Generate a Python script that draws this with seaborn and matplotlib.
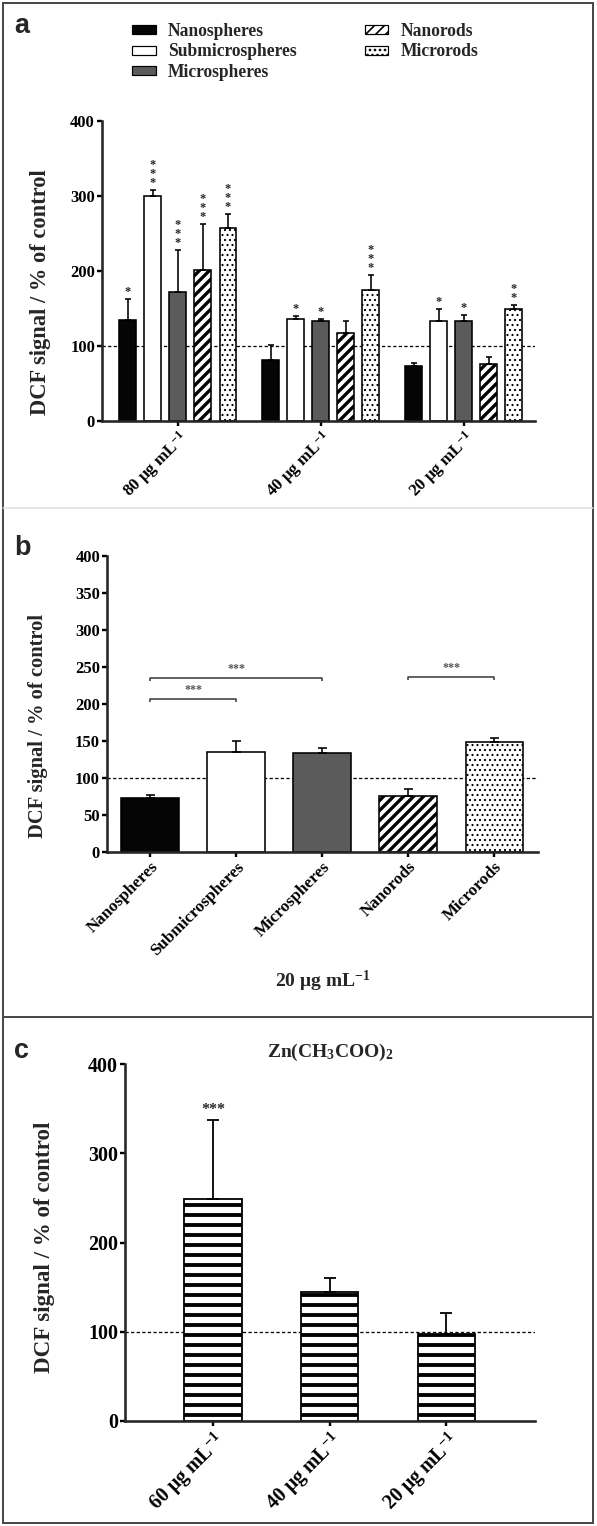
import numpy as np
import pandas as pd
import matplotlib
matplotlib.use("Agg")
import matplotlib.pyplot as plt
from matplotlib.patches import Patch, Rectangle
from matplotlib.lines import Line2D
import seaborn as sns

# ---------------- data ----------------
particles = ["Nanospheres", "Submicrospheres", "Microspheres", "Nanorods", "Microrods"]

# panel a : three doses
doses_a = ["80 μg mL$^{-1}$", "40 μg mL$^{-1}$", "20 μg mL$^{-1}$"]
nanospheres_a = [135, 82, 73]
submicrospheres_a = [300, 136, 134]
microspheres_a = [172, 134, 134]
nanorods_a = [201, 118, 76]
microrods_a = [257, 175, 149]
nanospheres_a_err = [28, 19, 4.5]
submicrospheres_a_err = [8, 4, 15.5]
microspheres_a_err = [56, 2, 7]
nanorods_a_err = [62, 15, 9]
microrods_a_err = [19, 20, 5.5]
nanospheres_a_sig = ["*", "", ""]
submicrospheres_a_sig = ["***", "*", "*"]
microspheres_a_sig = ["***", "*", "*"]
nanorods_a_sig = ["***", "", ""]
microrods_a_sig = ["***", "***", "**"]

# panel b : 20 ug/mL comparison
values_b = [73, 135, 134, 76, 149]
err_b = [4.5, 15.5, 7, 9, 5.5]
bracket_left_b = [0, 0, 3]
bracket_right_b = [1, 2, 4]
bracket_level_b = [207, 235, 237]
bracket_text_b = ["***", "***", "***"]
xlabel_b = "20 μg mL$^{-1}$"

# panel c : zinc acetate
title_c = "Zn(CH$_3$COO)$_2$"
doses_c = ["60 μg mL$^{-1}$", "40 μg mL$^{-1}$", "20 μg mL$^{-1}$"]
values_c = [249, 145, 98]
err_c = [88, 15, 23]
sig_c = ["***", "", ""]

control_level = 100
ylabel = "DCF signal / % of control"

# ---------------- style ----------------
W, H, DPI = 597, 1526, 120
def pt(px):
    return px * 72.0 / DPI

sns.set_style("ticks")
plt.rcParams["font.family"] = ["Liberation Serif", "DejaVu Serif"]
plt.rcParams["font.weight"] = "bold"
plt.rcParams["mathtext.fontset"] = "custom"
plt.rcParams["mathtext.rm"] = "Liberation Serif:bold"
plt.rcParams["mathtext.bf"] = "Liberation Serif:bold"
plt.rcParams["mathtext.it"] = "Liberation Serif:bold"
plt.rcParams["mathtext.sf"] = "Liberation Serif:bold"
plt.rcParams["mathtext.default"] = "rm"
plt.rcParams["hatch.color"] = "black"
plt.rcParams["axes.linewidth"] = pt(2.6)

face = {"Nanospheres": "#050505", "Submicrospheres": "#ffffff",
        "Microspheres": "#5b5b5b", "Nanorods": "#ffffff", "Microrods": "#ffffff"}
hatch = {"Nanospheres": "", "Submicrospheres": "", "Microspheres": "",
         "Nanorods": "////", "Microrods": "...."}
hatch_lw = {"Nanospheres": 1.0, "Submicrospheres": 1.0, "Microspheres": 1.0,
            "Nanorods": 2.0, "Microrods": 0.7}

def style_patch(p, name):
    p.set_hatch(hatch[name])
    try:
        p.set_hatch_linewidth(hatch_lw[name])
    except Exception:
        pass

fig = plt.figure(figsize=(W / DPI, H / DPI), dpi=DPI)
fig.patch.set_facecolor("white")

def rect(l, r, t, b):
    return [l / W, 1 - b / H, (r - l) / W, (b - t) / H]

def style_axis(ax, tick_px, yticks):
    sns.despine(ax=ax)
    ax.set_ylim(0, 400)
    ax.set_yticks(yticks)
    ax.tick_params(axis="both", direction="out", length=pt(5), width=pt(2.4),
                   labelsize=pt(tick_px), pad=pt(2), colors="black")
    for lbl in ax.get_yticklabels():
        lbl.set_fontweight("bold")
    ax.axhline(control_level, color="black", lw=pt(1.3), ls=(0, (2.5, 1.8)), zorder=1)
    ax.set_facecolor("white")

def rotate_xticks(ax, px):
    for lbl in ax.get_xticklabels():
        lbl.set_rotation(45)
        lbl.set_ha("right")
        lbl.set_va("top")
        lbl.set_rotation_mode("anchor")
        lbl.set_fontsize(pt(px))
        lbl.set_fontweight("bold")

# ---------------- panel a ----------------
ax_a = fig.add_axes(rect(102, 535, 121, 421))
means_a = dict(zip(particles, [nanospheres_a, submicrospheres_a, microspheres_a, nanorods_a, microrods_a]))
errs_a = dict(zip(particles, [nanospheres_a_err, submicrospheres_a_err, microspheres_a_err, nanorods_a_err, microrods_a_err]))
sigs_a = dict(zip(particles, [nanospheres_a_sig, submicrospheres_a_sig, microspheres_a_sig, nanorods_a_sig, microrods_a_sig]))
df_a = pd.DataFrame([(d, p, means_a[p][i]) for p in particles for i, d in enumerate(doses_a)],
                    columns=["dose", "particle", "value"])
sns.barplot(data=df_a, x="dose", y="value", hue="particle", order=doses_a, hue_order=particles,
            palette=face, saturation=1, width=0.875, gap=0.34, edgecolor="black",
            linewidth=pt(1.6), errorbar=None, legend=False, ax=ax_a, zorder=2)
bars_a = sorted(ax_a.patches, key=lambda p: p.get_x())
for k, p in enumerate(bars_a):
    g, h = divmod(k, len(particles))
    name = particles[h]
    style_patch(p, name)
    xc = p.get_x() + p.get_width() / 2
    top = p.get_height()
    e = errs_a[name][g]
    ax_a.errorbar([xc], [top], yerr=[[0], [e]], fmt="none", ecolor="black",
                  elinewidth=pt(1.6), capsize=pt(3.4), capthick=pt(1.6), zorder=3)
    s = sigs_a[name][g]
    if s:
        ax_a.text(xc, top + e + 1, "\n".join(s), ha="center", va="bottom",
                  fontsize=pt(12.5), linespacing=0.66, zorder=4)
ax_a.set_xlim(-0.53, 2.5)
style_axis(ax_a, 16.5, [0, 100, 200, 300, 400])
ax_a.set_xlabel("")
ax_a.set_ylabel(ylabel, fontsize=pt(22.5), fontweight="bold")
ax_a.yaxis.set_label_coords(-0.118, 0.43)
rotate_xticks(ax_a, 17)

# legend
handles = []
for name in particles:
    hp = Patch(facecolor=face[name], edgecolor="black", hatch=hatch[name], linewidth=pt(1.2))
    style_patch(hp, name)
    handles.append(hp)
fig.legend(handles, particles, loc="upper left", bbox_to_anchor=(132 / W, 1 - 23 / H),
           ncol=2, frameon=False, prop={"size": pt(17.5), "weight": "bold"},
           handlelength=1.35, handleheight=0.42, handletextpad=0.7,
           columnspacing=3.9, labelspacing=0.2, borderpad=0, borderaxespad=0)

# ---------------- panel b ----------------
ax_b = fig.add_axes(rect(107, 538, 556, 852))
sns.barplot(x=particles, y=values_b, hue=particles, order=particles, hue_order=particles,
            palette=face, saturation=1, width=0.665, edgecolor="black", linewidth=pt(1.6),
            errorbar=None, legend=False, ax=ax_b, zorder=2)
bars_b = sorted(ax_b.patches, key=lambda p: p.get_x())
centers_b = []
for i, p in enumerate(bars_b):
    style_patch(p, particles[i])
    xc = p.get_x() + p.get_width() / 2
    centers_b.append(xc)
    ax_b.errorbar([xc], [p.get_height()], yerr=[[0], [err_b[i]]], fmt="none", ecolor="black",
                  elinewidth=pt(1.6), capsize=pt(4.5), capthick=pt(1.6), zorder=3)
for l, r, lev, txt in zip(bracket_left_b, bracket_right_b, bracket_level_b, bracket_text_b):
    x1, x2 = centers_b[l], centers_b[r]
    ax_b.plot([x1, x1, x2, x2], [lev - 4.5, lev, lev, lev - 4.5], color="#333333",
              lw=pt(1.5), solid_capstyle="butt", zorder=3)
    ax_b.text((x1 + x2) / 2, lev + 4, txt, ha="center", va="bottom", fontsize=pt(12),
              color="#555555", zorder=4)
ax_b.set_xlim(-0.5, 4.51)
style_axis(ax_b, 16.5, list(range(0, 401, 50)))
ax_b.set_ylabel(ylabel, fontsize=pt(20.5), fontweight="bold")
ax_b.yaxis.set_label_coords(-0.137, 0.426)
ax_b.set_xlabel(xlabel_b, fontsize=pt(19.5), fontweight="bold")
ax_b.xaxis.set_label_coords(0.5, -0.395)
rotate_xticks(ax_b, 17)

# ---------------- panel c ----------------
ax_c = fig.add_axes(rect(125, 535, 1064, 1421))
sns.barplot(x=doses_c, y=values_c, order=doses_c, color="white", saturation=1, width=0.49,
            edgecolor="black", linewidth=pt(1.8), errorbar=None, ax=ax_c, zorder=2)
bars_c = sorted(ax_c.patches, key=lambda p: p.get_x())
for i, p in enumerate(bars_c):
    p.set_hatch("--")
    try:
        p.set_hatch_linewidth(2.3)
    except Exception:
        pass
    xc = p.get_x() + p.get_width() / 2
    top = p.get_height()
    ax_c.errorbar([xc], [top], yerr=[[0], [err_c[i]]], fmt="none", ecolor="black",
                  elinewidth=pt(1.8), capsize=pt(6), capthick=pt(1.8), zorder=3)
    if sig_c[i]:
        ax_c.text(xc, top + err_c[i] + 2, sig_c[i], ha="center", va="bottom",
                  fontsize=pt(16), zorder=4)
ax_c.set_xlim(-0.754, 2.76)
style_axis(ax_c, 20, [0, 100, 200, 300, 400])
ax_c.set_xlabel("")
ax_c.set_ylabel(ylabel, fontsize=pt(23), fontweight="bold")
ax_c.yaxis.set_label_coords(-0.171, 0.488)
ax_c.set_title(title_c, fontsize=pt(19.5), fontweight="bold", pad=pt(7))
rotate_xticks(ax_c, 20)

# ---------------- panel letters & frames ----------------
for letter, y in [("a", 33), ("b", 555), ("c", 1058)]:
    fig.text(14 / W, 1 - y / H, letter, family="Liberation Sans", weight="bold",
             fontsize=pt(27), ha="left", va="baseline")

fig.add_artist(Rectangle((3 / W, 3 / H), (593 - 3) / W, (1523 - 3) / H,
                         transform=fig.transFigure, fill=False, edgecolor="#4a4a4a", lw=pt(2)))
fig.add_artist(Line2D([3 / W, 593 / W], [1 - 508 / H, 1 - 508 / H], transform=fig.transFigure,
                      color="#dddddd", lw=pt(1.5)))
fig.add_artist(Line2D([3 / W, 593 / W], [1 - 1017 / H, 1 - 1017 / H], transform=fig.transFigure,
                      color="#4a4a4a", lw=pt(2)))

fig.savefig("out.png", dpi=DPI, facecolor="white")
